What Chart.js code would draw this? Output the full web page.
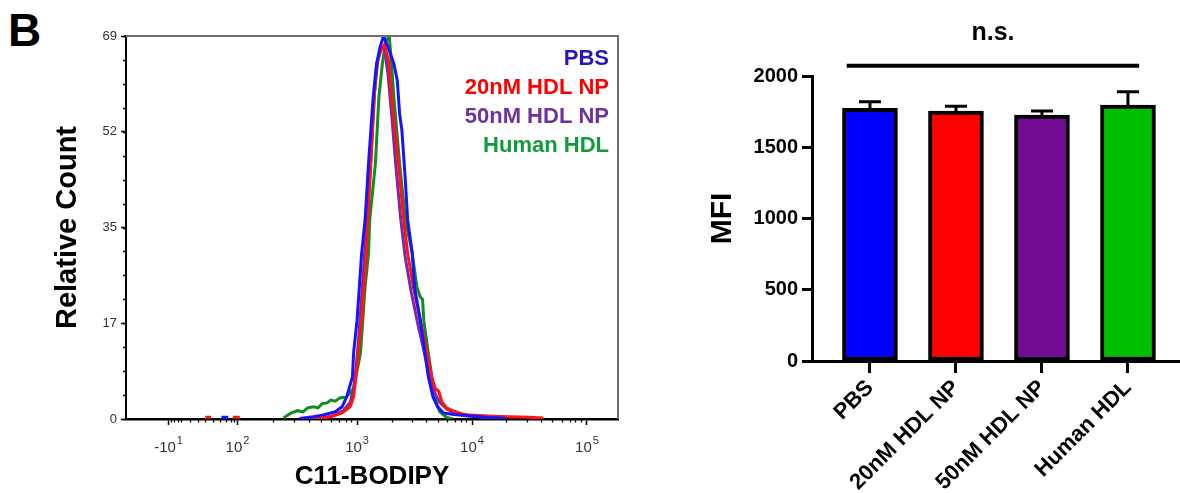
<!DOCTYPE html>
<html>
<head>
<meta charset="utf-8">
<script src="https://cdn.jsdelivr.net/npm/chart.js@4.4.1/dist/chart.umd.min.js"></script>
<style>
  html, body { margin: 0; padding: 0; background: #fff; }
  body { width: 1180px; height: 493px; position: relative; overflow: hidden; }
  #panel-label { position: absolute; left: 8px; top: 7px; font: bold 46px/46px Arial, "Liberation Sans", sans-serif; color: #000; }
  #hist-chart { position: absolute; left: 0; top: 0; }
  #bar-chart { position: absolute; left: 690px; top: 0; }
</style>
</head>
<body>
<div id="panel-label">B</div>
<canvas id="hist-chart" width="640" height="493"></canvas>
<canvas id="bar-chart" width="490" height="493"></canvas>
<script>
const FONT = "Arial, 'Liberation Sans', sans-serif";

// groups shared by both panels
const groups = ["PBS", "20nM HDL NP", "50nM HDL NP", "Human HDL"];
const lineColors = ["#1414ff", "#ff1414", "#7a2aa8", "#128c1e"];
const legendColors = ["#2a18b4", "#ff0000", "#7030a0", "#109c3a"];
const barColors = ["#0000ff", "#ff0000", "#740b93", "#00bf00"];

// histogram x positions are in display decades (3 = 10^3), y = relative count
const pbsX = [1.82, 1.88, 1.90, 2.50, 2.62, 2.70, 2.81, 2.87, 2.91, 2.96, 2.97, 3.00, 3.02, 3.04, 3.07, 3.10, 3.14, 3.17, 3.20, 3.23, 3.27, 3.32, 3.35, 3.37, 3.39, 3.42, 3.44, 3.48, 3.50, 3.55, 3.59, 3.62, 3.66, 3.70, 3.75, 3.84, 3.96, 4.13, 4.30];
const pbsY = [0.3, 0.3, null, 0.1, 0.4, 0.7, 1.3, 2.2, 4.0, 7.6, 11.9, 17.8, 23.8, 29.9, 35.9, 46.1, 58.0, 64.0, 67.0, 69.0, 67.0, 64.0, 61.0, 55.0, 52.0, 43.0, 35.9, 29.9, 23.8, 17.8, 11.9, 7.6, 4.0, 2.2, 1.1, 0.8, 0.6, 0.3, 0.1];

const np20X = [1.68, 1.73, 1.75, 1.92, 1.98, 2.00, 2.60, 2.68, 2.77, 2.87, 2.94, 2.97, 2.99, 3.01, 3.04, 3.06, 3.08, 3.09, 3.12, 3.15, 3.17, 3.21, 3.24, 3.28, 3.30, 3.36, 3.41, 3.44, 3.49, 3.55, 3.61, 3.65, 3.68, 3.71, 3.74, 3.78, 3.83, 3.90, 3.98, 4.18, 4.33, 4.50, 4.62];
const np20Y = [0.3, 0.3, null, 0.3, 0.3, null, 0.05, 0.2, 0.4, 1.1, 2.2, 4.0, 7.6, 11.9, 17.8, 23.8, 29.9, 34.6, 46.1, 58.0, 64.0, 66.5, 67.5, 64.0, 58.0, 46.1, 35.0, 29.9, 23.8, 17.8, 11.9, 7.6, 5.5, 5.0, 3.0, 2.0, 1.5, 1.0, 0.7, 0.5, 0.4, 0.3, 0.2];

const np50X = [2.55, 2.70, 2.80, 2.88, 2.94, 2.97, 2.99, 3.01, 3.03, 3.05, 3.07, 3.09, 3.12, 3.15, 3.18, 3.21, 3.24, 3.27, 3.30, 3.34, 3.38, 3.42, 3.47, 3.53, 3.59, 3.64, 3.68, 3.72, 3.78, 3.86, 3.95, 4.10, 4.30];
const np50Y = [0.05, 0.2, 0.6, 1.5, 3.0, 5.5, 9.0, 13.5, 19.0, 25.0, 31.0, 37.0, 47.0, 58.5, 64.5, 67.0, 66.5, 62.0, 55.0, 45.0, 36.0, 29.0, 23.0, 17.0, 11.5, 7.0, 4.5, 3.0, 1.8, 1.0, 0.6, 0.3, 0.1];

const hdlX = [2.36, 2.42, 2.48, 2.53, 2.57, 2.62, 2.66, 2.70, 2.74, 2.77, 2.81, 2.85, 2.90, 2.93, 2.97, 2.99, 3.03, 3.05, 3.07, 3.10, 3.11, 3.16, 3.19, 3.22, 3.25, 3.28, 3.30, 3.32, 3.37, 3.42, 3.48, 3.52, 3.55, 3.57, 3.58, 3.62, 3.65, 3.68, 3.72, 3.78, 3.83];
const hdlY = [0.2, 1.0, 1.5, 1.3, 2.0, 2.2, 2.0, 2.8, 2.9, 3.4, 3.2, 3.8, 3.9, 4.5, 5.5, 7.6, 11.9, 17.8, 23.8, 29.9, 35.9, 46.1, 58.0, 64.0, 68.0, 69.0, 64.0, 58.0, 46.1, 35.9, 29.9, 23.8, 22.0, 21.5, 17.8, 11.9, 7.6, 3.6, 1.3, 0.3, 0.05];

// histogram axes
const yMajorTicks = [0, 17.25, 34.5, 51.75, 69];
const yTickLabels = ["0", "17", "35", "52", "69"];
const xMajorTicks = [1.36, 1.96, 3, 4, 5];
const xTickBases = ["-10", "10", "10", "10", "10"];
const xTickExps = ["1", "2", "3", "4", "5"];
const xMinorTicks = [1.38, 1.41, 1.44, 1.47, 1.55, 1.62, 1.68, 1.75, 1.81, 1.86, 1.90, 1.93,
  2.27, 2.45, 2.58, 2.69, 2.77, 2.84, 2.90, 2.95,
  3.30, 3.48, 3.60, 3.70, 3.78, 3.85, 3.90, 3.95,
  4.30, 4.48, 4.60, 4.70, 4.78, 4.85, 4.90, 4.95];

// bar panel
const mfiMean = [1773, 1754, 1726, 1796];
const mfiSem = [47, 33, 28, 94];
const mfiTicks = [0, 500, 1000, 1500, 2000];
const mfiTickLabels = ["0", "500", "1000", "1500", "2000"];
const sigFrom = -0.27;
const sigTo = 3.13;
const sigLevel = 2072;
const sigTextLevel = 2250;

const toPoints = (xs, ys) => xs.map((x, i) => ({ x: x, y: ys[i] }));

// frame, minor ticks, power-of-ten labels and coloured legend for the histogram
const histDecor = {
  id: "histDecor",
  afterDatasetsDraw(chart) {
    const { ctx, chartArea: a, scales: { x, y } } = chart;
    ctx.save();
    ctx.strokeStyle = "#6e6e6e";
    ctx.lineWidth = 2;
    ctx.beginPath();
    ctx.moveTo(a.left, a.top);
    ctx.lineTo(a.right, a.top);
    ctx.lineTo(a.right, a.bottom);
    ctx.stroke();

    ctx.strokeStyle = "#000";
    ctx.lineWidth = 1.3;
    ctx.beginPath();
    for (let v = 0; v <= 69; v += 69 / 16) {
      const py = Math.round(y.getPixelForValue(v)) + 0.5;
      ctx.moveTo(a.left - 3, py);
      ctx.lineTo(a.left, py);
    }
    xMinorTicks.forEach(v => {
      const px = Math.round(x.getPixelForValue(v)) + 0.5;
      ctx.moveTo(px, a.bottom);
      ctx.lineTo(px, a.bottom + 3.5);
    });
    ctx.stroke();

    // 10^n labels with a raised exponent
    ctx.fillStyle = "#333";
    ctx.textBaseline = "alphabetic";
    ctx.textAlign = "left";
    xMajorTicks.forEach((v, i) => {
      ctx.font = "15px " + FONT;
      const wb = ctx.measureText(xTickBases[i]).width;
      ctx.font = "11px " + FONT;
      const we = ctx.measureText(xTickExps[i]).width;
      const left = x.getPixelForValue(v) - (wb + we + 1) / 2;
      ctx.font = "15px " + FONT;
      ctx.fillText(xTickBases[i], left, a.bottom + 33);
      ctx.font = "11px " + FONT;
      ctx.fillText(xTickExps[i], left + wb + 1, a.bottom + 25);
    });

    ctx.font = "bold 22px " + FONT;
    ctx.textAlign = "right";
    ctx.textBaseline = "middle";
    groups.forEach((g, i) => {
      ctx.fillStyle = legendColors[i];
      ctx.fillText(g, a.right - 9, a.top + 23 + i * 29);
    });
    ctx.restore();
  }
};

new Chart(document.getElementById("hist-chart"), {
  type: "line",
  data: {
    datasets: [
      { label: groups[0], data: toPoints(pbsX, pbsY), borderColor: lineColors[0] },
      { label: groups[1], data: toPoints(np20X, np20Y), borderColor: lineColors[1] },
      { label: groups[2], data: toPoints(np50X, np50Y), borderColor: lineColors[2] },
      { label: groups[3], data: toPoints(hdlX, hdlY), borderColor: lineColors[3] }
    ]
  },
  options: {
    responsive: false,
    animation: false,
    events: [],
    layout: { padding: { left: 0, top: 36, right: 22, bottom: 0 } },
    elements: {
      line: { borderWidth: 3, tension: 0, fill: false },
      point: { radius: 0 }
    },
    spanGaps: false,
    plugins: { legend: { display: false }, tooltip: { enabled: false } },
    scales: {
      x: {
        type: "linear",
        min: 0.99,
        max: 5.27,
        afterBuildTicks: s => { s.ticks = xMajorTicks.map(v => ({ value: v })); },
        afterFit: s => { s.height = 74; },
        ticks: { display: false },
        grid: { drawOnChartArea: false, tickLength: 6, tickWidth: 1.5, tickColor: "#000" },
        border: { color: "#000", width: 2.5 },
        title: {
          display: true,
          text: "C11-BODIPY",
          color: "#000",
          font: { family: FONT, size: 26, weight: "bold" },
          padding: { top: 0, bottom: 1 }
        }
      },
      y: {
        min: 0,
        max: 69,
        afterBuildTicks: s => { s.ticks = yMajorTicks.map(v => ({ value: v })); },
        afterFit: s => { s.width = 126; },
        ticks: {
          padding: 4,
          color: "#333",
          font: { family: FONT, size: 13 },
          callback: (v, i) => yTickLabels[i]
        },
        grid: { drawOnChartArea: false, tickLength: 5, tickWidth: 1.5, tickColor: "#000" },
        border: { color: "#000", width: 2 },
        title: {
          display: true,
          text: "Relative Count",
          color: "#000",
          font: { family: FONT, size: 29, weight: "bold" },
          padding: { top: 51, bottom: 0 }
        }
      }
    }
  },
  plugins: [histDecor]
});

// error bars and the significance bracket
const barDecor = {
  id: "barDecor",
  afterDatasetsDraw(chart) {
    const { ctx, scales: { x, y } } = chart;
    ctx.save();
    ctx.strokeStyle = "#000";
    ctx.lineWidth = 3;
    ctx.beginPath();
    mfiMean.forEach((m, i) => {
      const px = x.getPixelForValue(i);
      const top = y.getPixelForValue(m + mfiSem[i]);
      ctx.moveTo(px, y.getPixelForValue(m));
      ctx.lineTo(px, top);
      ctx.moveTo(px - 11, top);
      ctx.lineTo(px + 11, top);
    });
    ctx.stroke();

    ctx.lineWidth = 4;
    ctx.beginPath();
    ctx.moveTo(x.getPixelForValue(sigFrom), y.getPixelForValue(sigLevel));
    ctx.lineTo(x.getPixelForValue(sigTo), y.getPixelForValue(sigLevel));
    ctx.stroke();

    ctx.fillStyle = "#000";
    ctx.font = "bold 25px " + FONT;
    ctx.textAlign = "center";
    ctx.textBaseline = "alphabetic";
    ctx.fillText("n.s.", x.getPixelForValue((sigFrom + sigTo) / 2), y.getPixelForValue(sigTextLevel));
    ctx.restore();
  }
};

new Chart(document.getElementById("bar-chart"), {
  type: "bar",
  data: {
    datasets: [{
      label: "MFI",
      data: mfiMean.map((m, i) => ({ x: i, y: m })),
      backgroundColor: barColors,
      borderColor: "#000",
      borderWidth: 4,
      borderSkipped: false,
      barThickness: 55
    }]
  },
  options: {
    responsive: false,
    animation: false,
    events: [],
    layout: { padding: { left: 0, top: 76, right: 0, bottom: 0 } },
    plugins: { legend: { display: false }, tooltip: { enabled: false } },
    scales: {
      x: {
        type: "linear",
        offset: false,
        min: -0.674,
        max: 3.605,
        afterBuildTicks: s => { s.ticks = groups.map((g, i) => ({ value: i })); },
        afterFit: s => { s.height = 132; },
        ticks: {
          autoSkip: false,
          maxRotation: 45,
          minRotation: 45,
          padding: 2,
          color: "#000",
          font: { family: FONT, size: 22, weight: "bold" },
          callback: (v, i) => groups[i]
        },
        grid: { offset: false, drawOnChartArea: false, tickLength: 12, tickWidth: 3, tickColor: "#000" },
        border: { color: "#000", width: 3 }
      },
      y: {
        min: 0,
        max: 2000,
        afterBuildTicks: s => { s.ticks = mfiTicks.map(v => ({ value: v })); },
        afterFit: s => { s.width = 122; },
        ticks: {
          padding: 4,
          color: "#000",
          font: { family: FONT, size: 20, weight: "bold" },
          callback: (v, i) => mfiTickLabels[i]
        },
        grid: { drawOnChartArea: false, tickLength: 10, tickWidth: 3, tickColor: "#000" },
        border: { color: "#000", width: 3 },
        title: {
          display: true,
          text: "MFI",
          color: "#000",
          font: { family: FONT, size: 30, weight: "bold" },
          padding: { top: 15, bottom: 0 }
        }
      }
    }
  },
  plugins: [barDecor]
});
</script>
</body>
</html>
